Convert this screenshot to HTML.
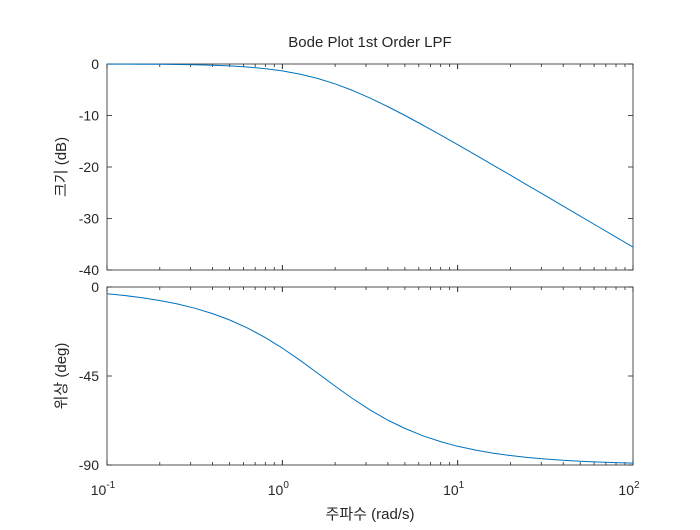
<!DOCTYPE html>
<html><head><meta charset="utf-8"><style>
body{margin:0;background:#fff}
text{font-family:"Liberation Sans","Noto Sans CJK KR",sans-serif;fill:#262626}
</style></head><body>
<svg id="c" width="700" height="525" xmlns="http://www.w3.org/2000/svg">
<text x="370" y="47" text-anchor="middle" font-size="15">Bode Plot 1st Order LPF</text>
<text transform="translate(66,167) rotate(-90)" text-anchor="middle" font-size="15">크기 (dB)</text>
<text transform="translate(66,376) rotate(-90)" text-anchor="middle" font-size="15">위상 (deg)</text>
<text x="370" y="519" text-anchor="middle" font-size="15">주파수  (rad/s)</text>
<g id="g"></g>
</svg>
<script>
const freqs=[0.1,0.1259,0.1585,0.1995,0.2512,0.3162,0.3981,0.5012,0.631,0.7943,1,1.259,1.585,1.995,2.512,3.162,3.981,5.012,6.31,7.943,10,12.59,15.85,19.95,25.12,31.62,39.81,50.12,63.1,79.43,100];
const magDb=[-0.016,-0.025,-0.039,-0.062,-0.097,-0.153,-0.240,-0.374,-0.580,-0.885,-1.331,-1.954,-2.790,-3.851,-5.135,-6.614,-8.250,-10.004,-11.840,-13.734,-15.665,-17.621,-19.593,-21.575,-23.565,-25.558,-27.555,-29.551,-31.549,-33.548,-35.547];
const phaseDeg=[-3.43,-4.31,-5.42,-6.81,-8.55,-10.72,-13.41,-16.71,-20.70,-25.44,-30.91,-37.01,-43.50,-50.07,-56.38,-62.16,-67.24,-71.57,-75.18,-78.13,-80.52,-82.44,-83.99,-85.22,-86.20,-86.98,-87.60,-88.09,-88.48,-88.80,-89.04];
const magTicks=[0,-10,-20,-30,-40];
const phaseTicks=[0,-45,-90];
const xDecades=[-1,0,1,2];
const NS="http://www.w3.org/2000/svg";
const g=document.getElementById('g');
const X0=107,X1=633;
const xs=w=>X0+(Math.log10(w)+1)/3*(X1-X0);
function el(t,a,p){const e=document.createElementNS(NS,t);for(const k in a)e.setAttribute(k,a[k]);(p||g).appendChild(e);return e;}
function axes(name,top,bot,ymin,ymax,ticks,vals,showX){
  const ys=v=>top+(ymax-v)/(ymax-ymin)*(bot-top);
  const r=el('rect',{x:X0,y:top,width:X1-X0,height:bot-top,fill:'none',stroke:'#262626','stroke-width':0.8});
  
  
  ticks.forEach(t=>{const y=ys(t);
    el('line',{x1:X0,x2:X0+5,y1:y,y2:y,stroke:'#262626','stroke-width':0.8});
    el('line',{x1:X1,x2:X1-5,y1:y,y2:y,stroke:'#262626','stroke-width':0.8});
    const tx=el('text',{x:X0-8,y:y+5,'text-anchor':'end','font-size':14});tx.textContent=t;
    
    
  });
  for(let d=-1;d<2;d++)for(let m=1;m<=10;m++){const w=m*Math.pow(10,d);const x=xs(w);const L=(m==1||m==10)?5:3;
    el('line',{x1:x,x2:x,y1:bot,y2:bot-L,stroke:'#262626','stroke-width':0.8});
    el('line',{x1:x,x2:x,y1:top,y2:top+L,stroke:'#262626','stroke-width':0.8});}
  if(showX)xDecades.forEach(d=>{const x=xs(Math.pow(10,d));
    const tx=el('text',{x:x-4,y:bot+30,'text-anchor':'middle','font-size':14});
    
    
    tx.textContent='10';
    const s=el('tspan',{dy:-7,'font-size':10},tx);s.textContent=d;});
  const p=el('path',{d:freqs.map((w,i)=>(i?'L':'M')+xs(w).toFixed(1)+','+ys(vals[i]).toFixed(1)).join(''),fill:'none',stroke:'#0072BD','stroke-width':1,'stroke-linejoin':'round'});
  
  
}
axes('magnitude',64,270,-40,0,magTicks,magDb,false);
axes('phase',287,465,-90,0,phaseTicks,phaseDeg,true);
</script>
</body></html>
